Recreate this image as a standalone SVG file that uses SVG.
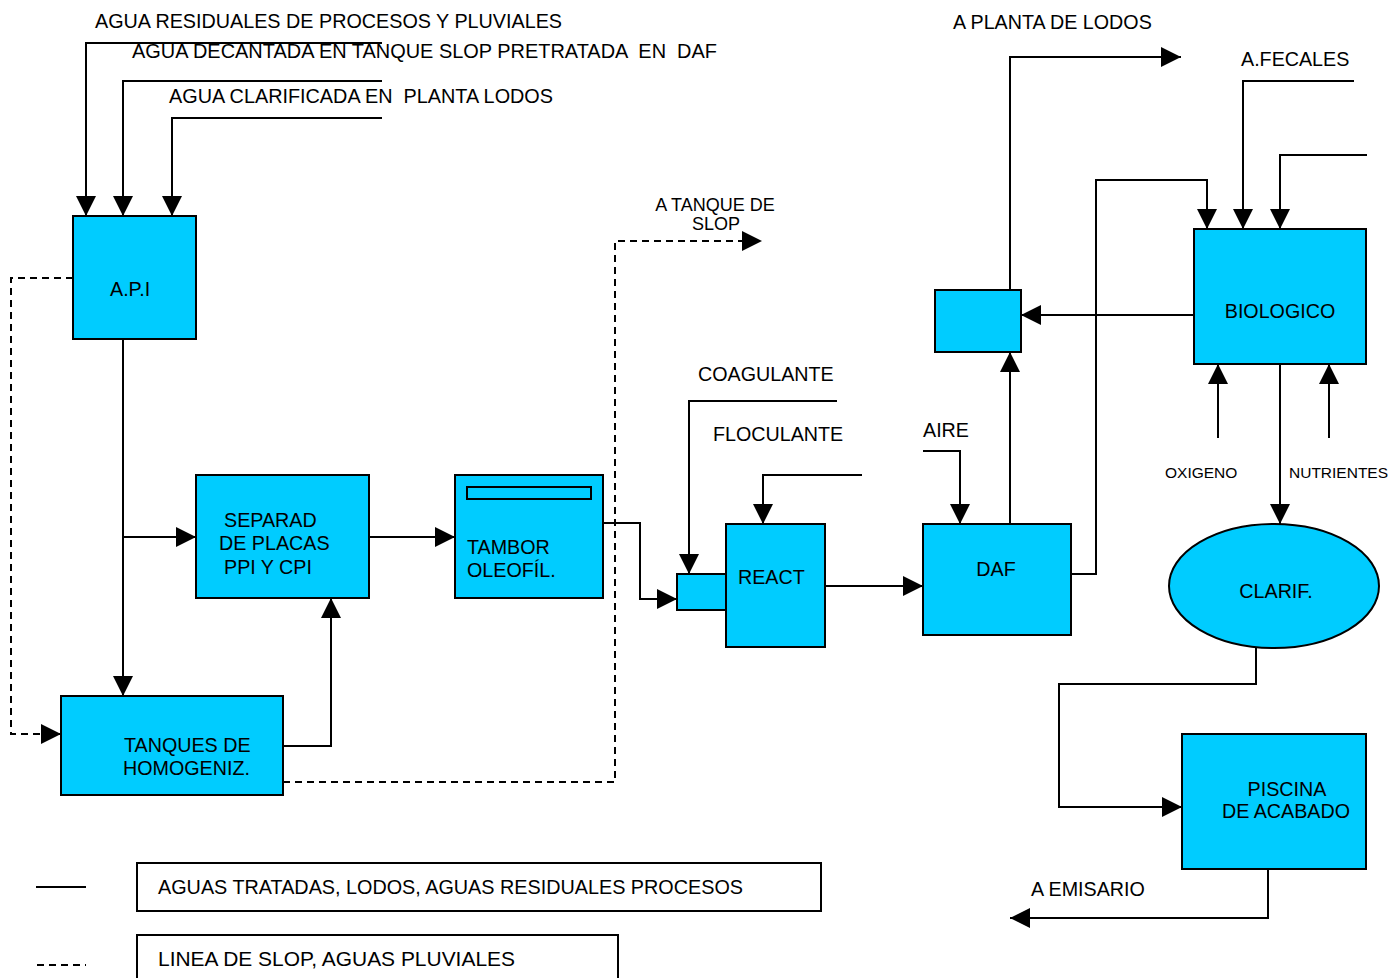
<svg xmlns="http://www.w3.org/2000/svg" width="1400" height="978" viewBox="0 0 1400 978">
  <style>
    .box { fill: #00CCFF; stroke: #000; stroke-width: 2; }
    .plain { fill: none; stroke: #000; stroke-width: 2; }
    .flow { fill: none; stroke: #000; stroke-width: 2; }
    .arrow { marker-end: url(#head); }
    .dash { stroke-dasharray: 7 5; }
    text { font-family: "Liberation Sans", Arial, sans-serif; font-size: 19.7px; fill: #000; white-space: pre; }
    .small { font-size: 15.5px; }
    .mid { font-size: 18px; }
    .c { text-anchor: middle; }
  </style>
  <defs>
    <marker id="head" viewBox="0 0 20 20" refX="20" refY="10" markerWidth="20" markerHeight="20" markerUnits="userSpaceOnUse" orient="auto">
      <path d="M0,0 L20,10 L0,20 z" fill="#000"/>
    </marker>
  </defs>

  <rect width="1400" height="978" fill="#fff"/>

  <!-- connectors -->
  <g id="connectors">
    <!-- feeds into the API separator -->
    <polyline class="flow arrow" points="382,43 86,43 86,216"/>
    <polyline class="flow arrow" points="382,81 123,81 123,216"/>
    <polyline class="flow arrow" points="382,118 172,118 172,216"/>
    <!-- API to homogenising tanks and plate separator -->
    <polyline class="flow arrow" points="123,339 123,696"/>
    <polyline class="flow arrow" points="123,537 196,537"/>
    <polyline class="flow dash arrow" points="73,278 11,278 11,734 61,734"/>
    <!-- homogenising tanks back to plate separator -->
    <polyline class="flow arrow" points="283,746 331,746 331,598"/>
    <!-- slop line -->
    <polyline class="flow dash arrow" points="283,782 615,782 615,241 762,241"/>
    <!-- separator to drum -->
    <polyline class="flow arrow" points="369,537 455,537"/>
    <!-- drum to mixing chamber -->
    <polyline class="flow arrow" points="603,523 640,523 640,599 677,599"/>
    <!-- chemical dosing -->
    <polyline class="flow arrow" points="837,401 689,401 689,574"/>
    <polyline class="flow arrow" points="862,475 763,475 763,524"/>
    <!-- reactor to DAF -->
    <polyline class="flow arrow" points="825,586 923,586"/>
    <!-- air to DAF -->
    <polyline class="flow arrow" points="923,451 960,451 960,524"/>
    <!-- DAF to sludge box -->
    <polyline class="flow arrow" points="1010,524 1010,352"/>
    <!-- sludge box to sludge plant -->
    <polyline class="flow arrow" points="1010,290 1010,57 1181,57"/>
    <!-- DAF effluent to biological -->
    <polyline class="flow arrow" points="1071,574 1096,574 1096,180 1207,180 1207,229"/>
    <polyline class="flow arrow" points="1354,81 1243,81 1243,229"/>
    <polyline class="flow arrow" points="1367,155 1280,155 1280,229"/>
    <!-- biological sludge to sludge box -->
    <polyline class="flow arrow" points="1194,315 1021,315"/>
    <!-- oxygen and nutrients -->
    <polyline class="flow arrow" points="1218,438 1218,364"/>
    <polyline class="flow arrow" points="1329,438 1329,364"/>
    <!-- biological to clarifier -->
    <polyline class="flow arrow" points="1280,364 1280,524"/>
    <!-- clarifier to finishing pond -->
    <polyline class="flow arrow" points="1256,647 1256,684 1059,684 1059,807 1182,807"/>
    <!-- finishing pond to outfall -->
    <polyline class="flow arrow" points="1268,869 1268,918 1010,918"/>
  </g>

  <!-- flow labels -->
  <g id="labels">
    <text x="95" y="28" textLength="467" lengthAdjust="spacingAndGlyphs">AGUA RESIDUALES DE PROCESOS Y PLUVIALES</text>
    <text x="132" y="58" textLength="585" lengthAdjust="spacingAndGlyphs" xml:space="preserve">AGUA DECANTADA EN TANQUE SLOP PRETRATADA  EN  DAF</text>
    <text x="169" y="103" textLength="384" lengthAdjust="spacingAndGlyphs" xml:space="preserve">AGUA CLARIFICADA EN  PLANTA LODOS</text>
    <text class="mid c" x="715" y="211">A TANQUE DE</text>
    <text class="mid c" x="716" y="230">SLOP</text>
    <text x="953" y="29">A PLANTA DE LODOS</text>
    <text x="1241" y="66">A.FECALES</text>
    <text x="698" y="381">COAGULANTE</text>
    <text x="713" y="441">FLOCULANTE</text>
    <text x="923" y="437">AIRE</text>
    <text class="small" x="1165" y="478">OXIGENO</text>
    <text class="small" x="1289" y="478">NUTRIENTES</text>
    <text x="1031" y="896">A EMISARIO</text>
  </g>

  <g id="api">
    <rect class="box" x="73" y="216" width="123" height="123"/>
    <text x="110" y="296">A.P.I</text>
  </g>

  <g id="separador">
    <rect class="box" x="196" y="475" width="173" height="123"/>
    <text x="224" y="527">SEPARAD</text>
    <text x="219" y="550">DE PLACAS</text>
    <text x="224" y="574">PPI Y CPI</text>
  </g>

  <g id="tambor">
    <rect class="box" x="455" y="475" width="148" height="123"/>
    <rect class="box" x="467" y="487" width="124" height="12"/>
    <text x="467" y="554">TAMBOR</text>
    <text x="467" y="577">OLEOFÍL.</text>
  </g>

  <g id="mezcla">
    <rect class="box" x="677" y="574" width="49" height="36"/>
  </g>

  <g id="react">
    <rect class="box" x="726" y="524" width="99" height="123"/>
    <text x="738" y="584">REACT</text>
  </g>

  <g id="daf">
    <rect class="box" x="923" y="524" width="148" height="111"/>
    <text class="c" x="996" y="576">DAF</text>
  </g>

  <g id="lodos">
    <rect class="box" x="935" y="290" width="86" height="62"/>
  </g>

  <g id="biologico">
    <rect class="box" x="1194" y="229" width="172" height="135"/>
    <text class="c" x="1280" y="318">BIOLOGICO</text>
  </g>

  <g id="clarif">
    <ellipse class="box" cx="1274" cy="586" rx="105" ry="62"/>
    <text class="c" x="1276" y="598">CLARIF.</text>
  </g>

  <g id="piscina">
    <rect class="box" x="1182" y="734" width="184" height="135"/>
    <text class="c" x="1287" y="796">PISCINA</text>
    <text class="c" x="1286" y="818">DE ACABADO</text>
  </g>

  <g id="homogeniz">
    <rect class="box" x="61" y="696" width="222" height="99"/>
    <text x="124" y="752">TANQUES DE</text>
    <text x="123" y="775">HOMOGENIZ.</text>
  </g>

  <!-- line-style key -->
  <g id="legend">
    <line class="plain" x1="36" y1="887" x2="86" y2="887"/>
    <rect class="plain" x="137" y="863" width="684" height="48"/>
    <text x="158" y="894" textLength="585" lengthAdjust="spacingAndGlyphs">AGUAS TRATADAS, LODOS, AGUAS RESIDUALES PROCESOS</text>
    <line class="plain dash" x1="37" y1="965" x2="86" y2="965"/>
    <rect class="plain" x="137" y="935" width="481" height="60"/>
    <text x="158" y="966" textLength="357" lengthAdjust="spacingAndGlyphs">LINEA DE SLOP, AGUAS PLUVIALES</text>
  </g>
</svg>
